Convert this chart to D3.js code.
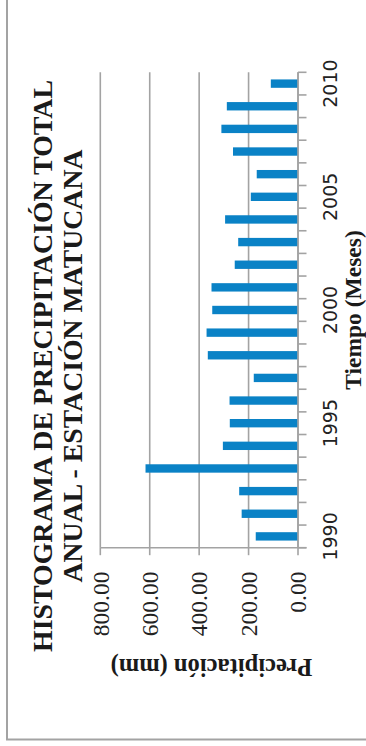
<!DOCTYPE html>
<html>
<head>
<meta charset="utf-8">
<script src="https://cdn.jsdelivr.net/npm/d3@7/dist/d3.min.js"></script>
<style>
  html, body { margin: 0; padding: 0; background: #fff; }
  svg { display: block; }
</style>
</head>
<body>
<script>
// Annual precipitation totals, Matucana station (mm)
const years = [1990, 1991, 1992, 1993, 1994, 1995, 1996, 1997, 1998, 1999,
               2000, 2001, 2002, 2003, 2004, 2005, 2006, 2007, 2008, 2009, 2010];
const precipitation = [171, 228, 238, 617, 304, 276, 277, 179, 365, 370,
                       347, 350, 256, 242, 295, 191, 167, 263, 310, 288, 110];
const valueTicks = [0, 200, 400, 600, 800];
const yearLabels = [1990, 1995, 2000, 2005, 2010];
const titleLines = ["HISTOGRAMA DE PRECIPITACIÓN TOTAL", "ANUAL - ESTACIÓN MATUCANA"];
const valueTitle = "Precipitación (mm)";
const timeTitle = "Tiempo (Meses)";

const W = 366, H = 746;
const plot = { left: 100.3, right: 298, top: 72.3, bottom: 547.7 };
const grey = "#a3a3a3";
const blue = "#0a82c6";
const serif = "'Liberation Serif', 'Times New Roman', serif";
const sans = "'DejaVu Sans', Verdana, sans-serif";

const svg = d3.select("body").append("svg")
  .attr("width", W).attr("height", H);

svg.append("rect").attr("width", W).attr("height", H).attr("fill", "#fff");

// chart area frame
svg.append("rect")
  .attr("x", 7).attr("y", -10)
  .attr("width", 380).attr("height", 749.5)
  .attr("fill", "none").attr("stroke", grey).attr("stroke-width", 2);

// value scale runs right-to-left, years run bottom-to-top
const x = d3.scaleLinear().domain([0, 800]).range([plot.right, plot.left]);
const y = d3.scaleBand()
  .domain(years.slice().reverse())
  .range([plot.top, plot.bottom])
  .paddingInner(0.63).paddingOuter(0.315);
const yb = d3.scaleBand()
  .domain(years.slice().reverse())
  .range([plot.top, plot.bottom]);

// gridlines
svg.append("g").selectAll("line")
  .data(valueTicks)
  .join("line")
  .attr("x1", d => x(d)).attr("x2", d => x(d))
  .attr("y1", plot.top).attr("y2", plot.bottom)
  .attr("stroke", grey).attr("stroke-width", 1.6);

// bars
svg.append("g").selectAll("rect")
  .data(years.map((yr, i) => ({ yr, v: precipitation[i] })))
  .join("rect")
  .attr("x", d => x(d.v))
  .attr("width", d => x(0) - x(d.v))
  .attr("y", d => y(d.yr))
  .attr("height", y.bandwidth())
  .attr("fill", blue);

// year axis (ticks at band boundaries)
const bounds = years.slice().reverse().map(d => yb(d)).concat([plot.bottom]);
svg.append("line")
  .attr("x1", plot.right).attr("x2", plot.right)
  .attr("y1", plot.top).attr("y2", plot.bottom)
  .attr("stroke", grey).attr("stroke-width", 1.6);
svg.append("g").selectAll("line")
  .data(bounds)
  .join("line")
  .attr("x1", plot.right).attr("x2", plot.right + 8.5)
  .attr("y1", d => d).attr("y2", d => d)
  .attr("stroke", grey).attr("stroke-width", 1.6);

svg.append("g").selectAll("text")
  .data(yearLabels)
  .join("text")
  .attr("transform", d => `translate(336.7, ${yb(d) + yb.bandwidth() / 2}) rotate(-90)`)
  .attr("text-anchor", "middle")
  .attr("font-family", sans)
  .attr("font-size", 19)
  .attr("fill", "#222")
  .text(d => d);

// value axis
svg.append("line")
  .attr("x1", plot.left).attr("x2", plot.right + 8.5)
  .attr("y1", plot.bottom).attr("y2", plot.bottom)
  .attr("stroke", grey).attr("stroke-width", 1.6);
svg.append("g").selectAll("line")
  .data(valueTicks)
  .join("line")
  .attr("x1", d => x(d)).attr("x2", d => x(d))
  .attr("y1", plot.bottom).attr("y2", plot.bottom + 7.5)
  .attr("stroke", grey).attr("stroke-width", 1.6);

svg.append("g").selectAll("text")
  .data(valueTicks)
  .join("text")
  .attr("transform", d => `translate(${x(d) + 8.3}, 571.5) rotate(-90)`)
  .attr("text-anchor", "end")
  .attr("font-family", serif)
  .attr("font-size", 23.5)
  .attr("fill", "#222")
  .text(d => d3.format(".2f")(d));

// title, two lines reading upward
const titleLen = [572, 433];
svg.append("g").selectAll("text")
  .data(titleLines)
  .join("text")
  .attr("transform", (d, i) => `translate(${51.7 + i * 30}, 366) rotate(-90)`)
  .attr("text-anchor", "middle")
  .attr("font-family", serif)
  .attr("font-weight", "bold")
  .attr("font-size", 27.5)
  .attr("textLength", (d, i) => titleLen[i])
  .attr("lengthAdjust", "spacingAndGlyphs")
  .attr("fill", "#1a1a1a")
  .text(d => d);

// value axis title (turned upside down)
svg.append("text")
  .attr("transform", "translate(211.5, 659.3) rotate(180)")
  .attr("text-anchor", "middle")
  .attr("font-family", serif)
  .attr("font-weight", "bold")
  .attr("font-size", 24.5)
  .attr("fill", "#1a1a1a")
  .text(valueTitle);

// time axis title
svg.append("text")
  .attr("transform", "translate(360.5, 310) rotate(-90)")
  .attr("text-anchor", "middle")
  .attr("font-family", serif)
  .attr("font-weight", "bold")
  .attr("font-size", 23.5)
  .attr("fill", "#1a1a1a")
  .text(timeTitle);
</script>
</body>
</html>
